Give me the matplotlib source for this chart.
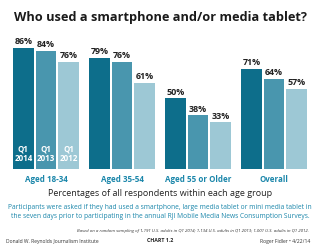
"""Smartphone / media tablet use by age group, Q1 2012-2014."""
import numpy as np
import matplotlib.pyplot as plt

plt.rcParams['font.family'] = ['Open Sans', 'DejaVu Sans']

groups = ["Aged 18-34", "Aged 35-54", "Aged 55 or Older", "Overall"]
years = ["2014", "2013", "2012"]
q2014 = [86, 79, 50, 71]
q2013 = [84, 76, 38, 64]
q2012 = [76, 61, 33, 57]

colors = ["#0d6e8b", "#4996ae", "#9dc8d5"]
teal = "#1a86aa"

fig = plt.figure(figsize=(3.2, 2.48), dpi=100)
ax = fig.add_axes([0.025, 79 / 248, 0.95, 141 / 248])

x = np.arange(len(groups))
pitch = 0.297
width = 0.276
for i, vals in enumerate([q2014, q2013, q2012]):
    xs = x + (i - 1) * pitch
    ax.bar(xs, vals, width=width, color=colors[i])
    for xi, v in zip(xs, vals):
        ax.text(xi, v + 1.2, f"{v}%", ha="center", va="bottom",
                fontsize=6.4, fontweight="bold", color="#222222")
    # quarter labels inside first group
    ax.text(xs[0], 11, "Q1\n" + years[i], ha="center", va="center",
            fontsize=5.8, fontweight="bold", color="white", linespacing=1.05)

for xi, g in zip(x, groups):
    ax.text(xi, -4, g, ha="center", va="top", fontsize=5.8,
            fontweight="bold", color=teal)

ax.set_xlim(-0.5, 3.5)
ax.set_ylim(0, 100)
ax.axis("off")

fig.text(0.5, 1 - 17 / 248, "Who used a smartphone and/or media tablet?",
         ha="center", va="center", fontsize=9.2, fontweight="bold", color="#1a1a1a")
fig.text(0.5, 1 - 193 / 248, "Percentages of all respondents within each age group",
         ha="center", va="center", fontsize=6.5, color="#222222")
fig.text(0.5, 1 - 212 / 248,
         "Participants were asked if they had used a smartphone, large media tablet or mini media tablet in\n"
         "the seven days prior to participating in the annual RJI Mobile Media News Consumption Surveys.",
         ha="center", va="center", fontsize=4.8, color=teal, linespacing=1.25)
fig.text(0.965, 1 - 231 / 248,
         "Based on a random sampling of 1,191 U.S. adults in Q1 2014; 1,134 U.S. adults in Q1 2013; 1,001 U.S. adults in Q1 2012.",
         ha="right", va="center", fontsize=3.2, style="italic", color="#333333")
fig.text(0.02, 1 - 241 / 248, "Donald W. Reynolds Journalism Institute",
         ha="left", va="center", fontsize=3.6, color="#333333")
fig.text(0.5, 1 - 241 / 248, "CHART 1.2",
         ha="center", va="center", fontsize=3.8, fontweight="bold", color="#222222")
fig.text(0.97, 1 - 241 / 248, "Roger Fidler \u2022 4/22/14",
         ha="right", va="center", fontsize=3.6, color="#333333")

fig.savefig("out.png", dpi=100)
